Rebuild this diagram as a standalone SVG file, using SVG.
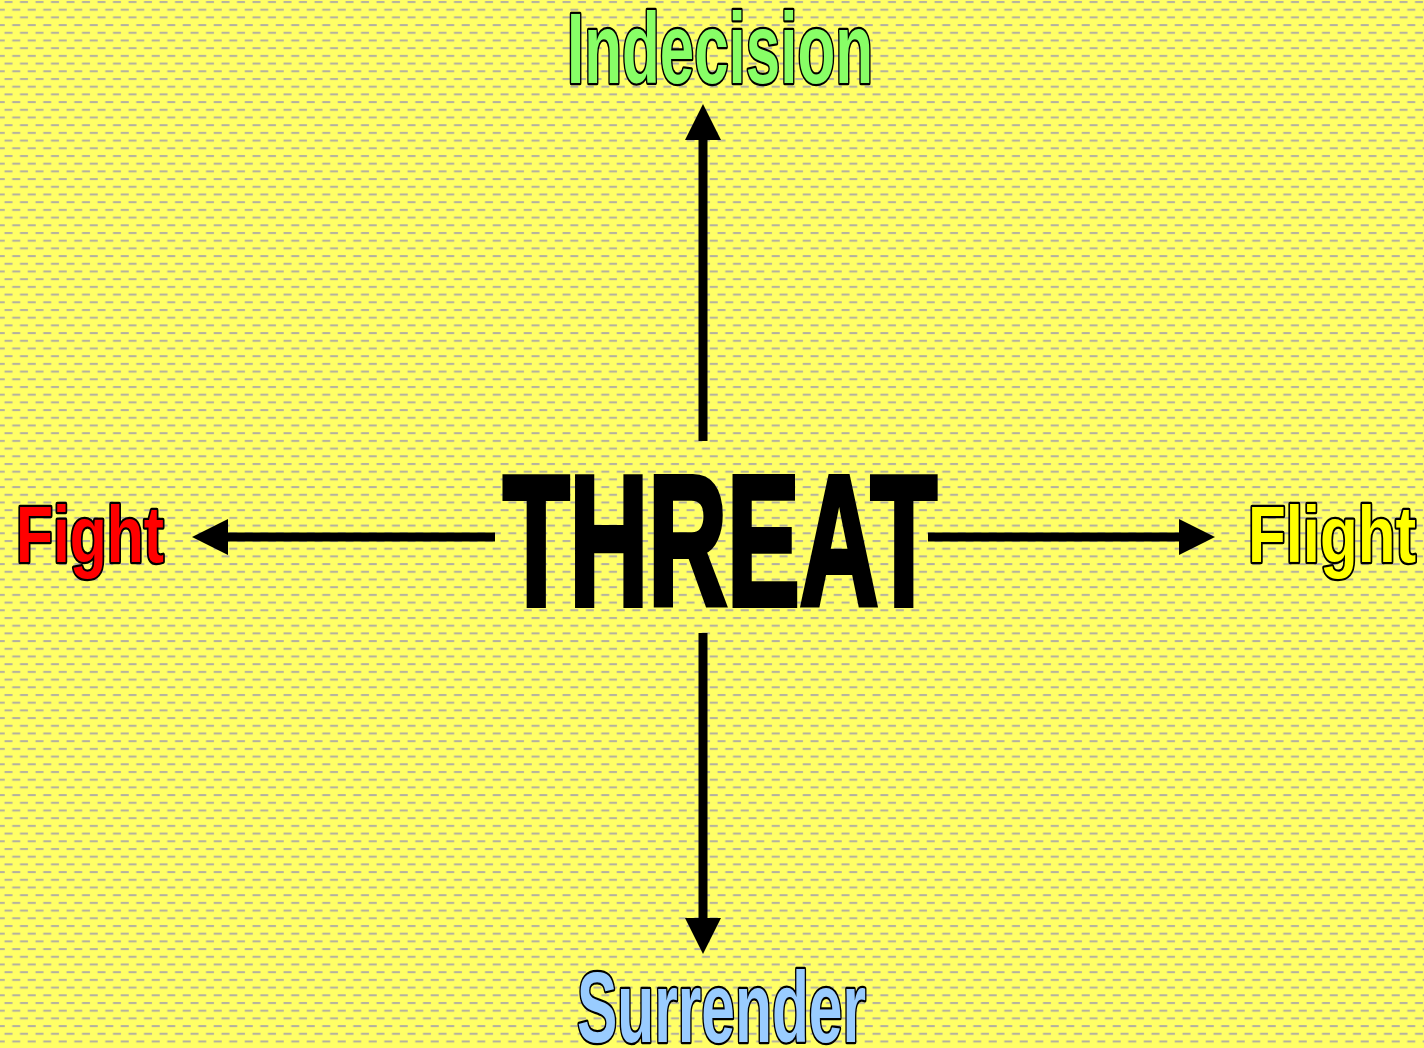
<svg xmlns="http://www.w3.org/2000/svg" width="1424" height="1048" viewBox="0 0 1424 1048">
<defs>
<pattern id="bg" x="0" y="0" width="15.5" height="15.4" patternUnits="userSpaceOnUse">
<rect width="15.5" height="15.4" fill="#ffff66"/>
<rect x="4.5" y="1" width="8" height="2" fill="#b4b0a0"/>
<rect x="12.25" y="8.7" width="8" height="2" fill="#b4b0a0"/>
<rect x="-3.25" y="8.7" width="8" height="2" fill="#b4b0a0"/>
</pattern>
<marker id="ah" viewBox="0 0 10 10" refX="0" refY="5" markerWidth="4" markerHeight="4" markerUnits="strokeWidth" orient="auto">
<path d="M0,0 L10,5 L0,10 z" fill="#000"/>
</marker>
</defs>
<style>
.lbl{font-family:"Liberation Sans",Arial,sans-serif;font-weight:bold;stroke:#000;stroke-width:4.5;stroke-linejoin:round;paint-order:stroke fill}
.arr{stroke:#000;stroke-width:9;fill:none}
</style>
<rect width="1424" height="1048" fill="url(#bg)"/>
<g id="connectors">
<line class="arr" x1="703" y1="441" x2="703" y2="140" marker-end="url(#ah)"/>
<line class="arr" x1="703" y1="633" x2="703" y2="918" marker-end="url(#ah)"/>
<line class="arr" x1="495" y1="537" x2="228" y2="537" marker-end="url(#ah)"/>
<line class="arr" x1="928" y1="537" x2="1179" y2="537" marker-end="url(#ah)"/>
</g>
<g id="threat"><text x="503" y="605" font-family="Liberation Sans,Arial,sans-serif" font-weight="bold" font-size="186" textLength="434" lengthAdjust="spacingAndGlyphs" fill="#000" stroke="#000" stroke-width="6">THREAT</text></g>
<g id="indecision"><text class="lbl" x="567" y="83" font-size="101" textLength="306" lengthAdjust="spacingAndGlyphs" fill="#88ff66">Indecision</text></g>
<g id="fight"><text class="lbl" x="16" y="562" font-size="80" textLength="148" lengthAdjust="spacingAndGlyphs" fill="#ff0000">Fight</text></g>
<g id="flight"><text class="lbl" x="1248" y="562" font-size="80" textLength="168" lengthAdjust="spacingAndGlyphs" fill="#ffff00">Flight</text></g>
<g id="surrender"><text class="lbl" x="577" y="1042" font-size="100" textLength="289" lengthAdjust="spacingAndGlyphs" fill="#99ccff">Surrender</text></g>
</svg>
